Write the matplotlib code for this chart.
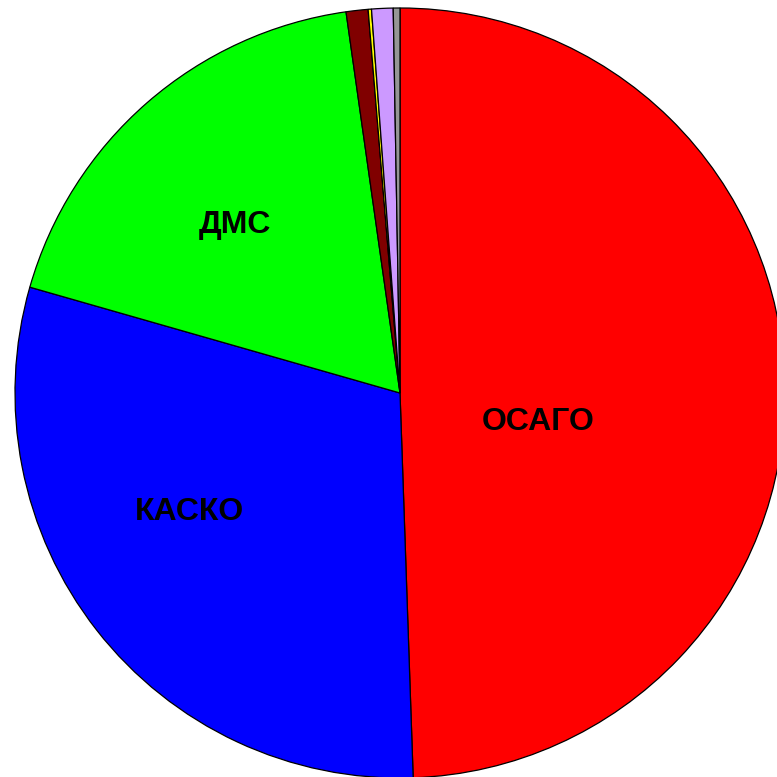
import matplotlib
matplotlib.use("Agg")
import matplotlib.pyplot as plt

categories = ['ОСАГО', 'КАСКО', 'ДМС', 'other1', 'other2', 'other3', 'other4']
shares = [49.46, 29.98, 18.33, 0.92, 0.14, 0.90, 0.28]
colors = ['#FF0000', '#0000FF', '#00FF00', '#800000', '#FFFF00', '#CC99FF', '#969696']
shown = ['ОСАГО', 'КАСКО', 'ДМС']
label_pos = [(0.358, -0.075), (-0.548, -0.31), (-0.429, 0.437)]

plt.rcParams['font.family'] = ['Liberation Sans', 'DejaVu Sans']

fig = plt.figure(figsize=(7.77, 7.77), dpi=100)
ax = fig.add_axes([15 / 777, -1 / 777, 770 / 777, 770 / 777])
ax.pie(shares, colors=colors, startangle=90, counterclock=False,
       wedgeprops={'edgecolor': 'black', 'linewidth': 0.9})
ax.set_xlim(-1, 1)
ax.set_ylim(-1, 1)
ax.set_aspect('equal')

for name, (x, y) in zip(shown, label_pos):
    ax.text(x, y, name, ha='center', va='center', fontsize=23, fontweight='bold')

fig.savefig('out.png', dpi=100)
